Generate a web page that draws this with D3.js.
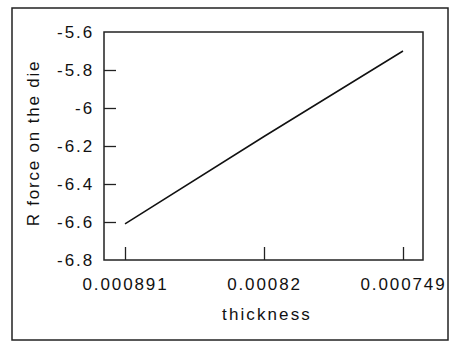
<!DOCTYPE html>
<html>
<head>
<meta charset="utf-8">
<script src="https://cdn.jsdelivr.net/npm/d3@7/dist/d3.min.js"></script>
<style>
  html, body { margin: 0; padding: 0; background: #fff; }
  svg { display: block; }
  text { font-family: "Liberation Sans", Arial, sans-serif; fill: #111; }
</style>
</head>
<body>
<svg id="chart" width="451" height="343"></svg>
<script>
// thickness values (plotted with decreasing thickness to the right)
const thickness = [0.000891, 0.00082, 0.000749];
// radial force on the die for each thickness
const rForce = [-6.61, -6.15, -5.70];

const xTickValues = [0.000891, 0.00082, 0.000749];
const xTickLabels = ["0.000891", "0.00082", "0.000749"];
const yTickValues = [-6.8, -6.6, -6.4, -6.2, -6.0, -5.8, -5.6];
const yTickLabels = ["-6.8", "-6.6", "-6.4", "-6.2", "-6", "-5.8", "-5.6"];

const svg = d3.select("#chart");

const plot = { left: 104, top: 32, right: 423, bottom: 260 };

const x = d3.scaleLinear().domain([0.000891, 0.000749]).range([125, 403]);
const y = d3.scaleLinear().domain([-6.8, -5.6]).range([plot.bottom, plot.top]);

// outer frame
svg.append("rect")
  .attr("x", 12).attr("y", 8)
  .attr("width", 436).attr("height", 332)
  .attr("fill", "none").attr("stroke", "#222").attr("stroke-width", 1.5);

// plot frame
svg.append("rect")
  .attr("x", plot.left).attr("y", plot.top)
  .attr("width", plot.right - plot.left).attr("height", plot.bottom - plot.top)
  .attr("fill", "none").attr("stroke", "#222").attr("stroke-width", 1.5);

const tickFont = { size: "17px", spacing: "1.9px" };

// y axis, ticks pointing inward
const yAxis = d3.axisLeft(y)
  .tickValues(yTickValues)
  .tickFormat((d, i) => yTickLabels[i])
  .tickSize(-12)
  .tickPadding(10);

const gy = svg.append("g")
  .attr("transform", `translate(${plot.left},0)`)
  .call(yAxis);
gy.select(".domain").remove();
gy.selectAll(".tick line")
  .attr("stroke", "#222").attr("stroke-width", 1.3)
  .attr("display", d => (d === -6.8 || d === -5.6) ? "none" : null);
gy.selectAll(".tick text")
  .style("font-size", tickFont.size)
  .style("letter-spacing", tickFont.spacing)
  .attr("fill", "#111");

// x axis, ticks pointing upward
const xAxis = d3.axisBottom(x)
  .tickValues(xTickValues)
  .tickFormat((d, i) => xTickLabels[i])
  .tickSize(-13)
  .tickPadding(18);

const gx = svg.append("g")
  .attr("transform", `translate(0,${plot.bottom})`)
  .call(xAxis);
gx.select(".domain").remove();
gx.selectAll(".tick line").attr("stroke", "#222").attr("stroke-width", 1.3);
gx.selectAll(".tick text")
  .style("font-size", tickFont.size)
  .style("letter-spacing", tickFont.spacing)
  .attr("fill", "#111");

// data line
const line = d3.line()
  .x((d, i) => x(thickness[i]))
  .y(d => y(d));

svg.append("path")
  .datum(rForce)
  .attr("d", line)
  .attr("fill", "none")
  .attr("stroke", "#111")
  .attr("stroke-width", 1.5);

// axis titles
svg.append("text")
  .attr("x", 267).attr("y", 320)
  .attr("text-anchor", "middle")
  .style("font-size", "17px")
  .style("letter-spacing", "2.1px")
  .text("thickness");

svg.append("text")
  .attr("transform", "translate(39,143) rotate(-90)")
  .attr("text-anchor", "middle")
  .style("font-size", "17px")
  .style("letter-spacing", "1.8px")
  .text("R force on the die");
</script>
</body>
</html>
